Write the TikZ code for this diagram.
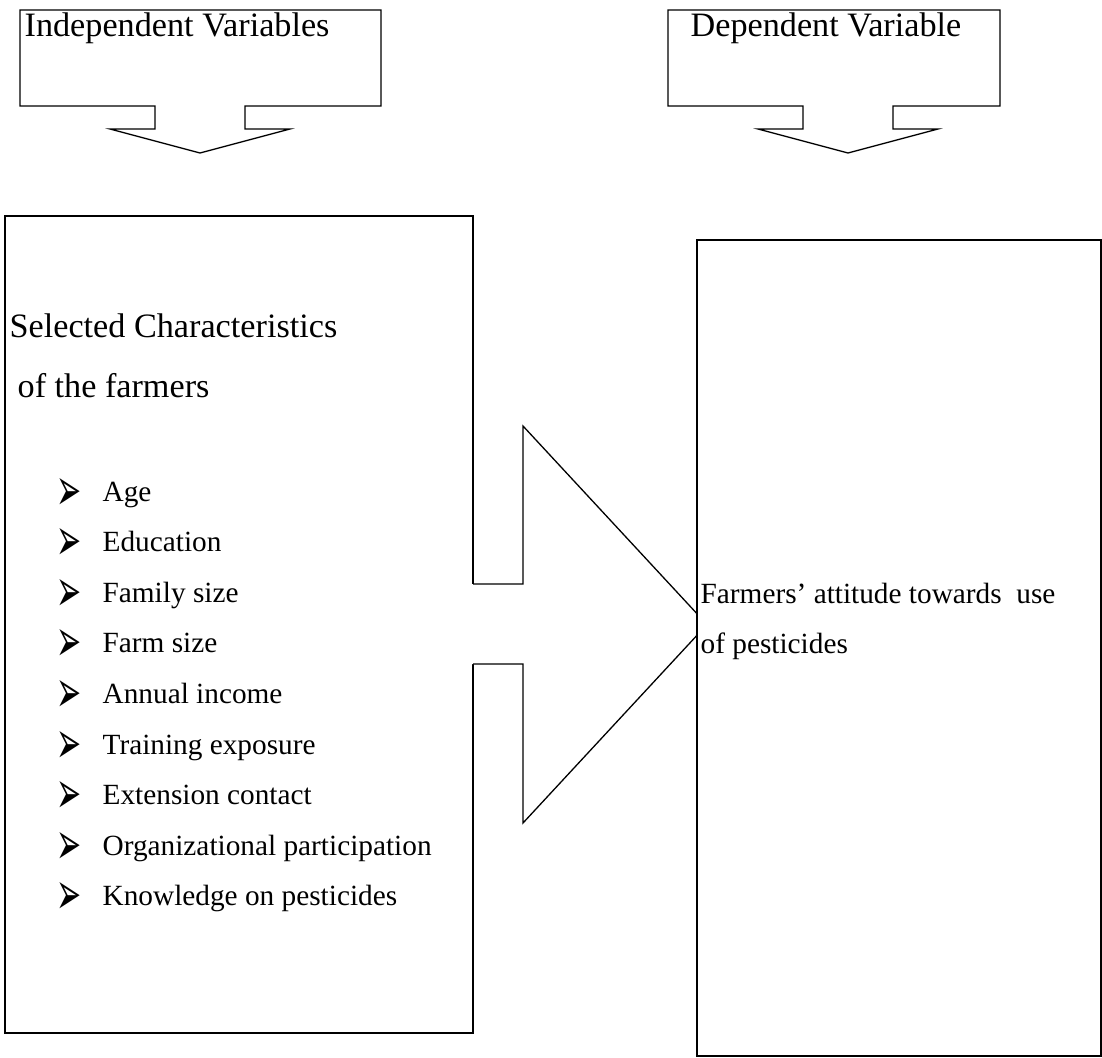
\documentclass[tikz,border=0pt]{standalone}
\usepackage{fontspec}
\setmainfont{Liberation Serif}
\newfontfamily\symfont{DejaVu Sans}
\begin{document}
\begin{tikzpicture}[x=1pt,y=-1pt,line width=1.3pt,
  big/.style={anchor=base west,inner sep=0pt,font=\fontsize{34.2}{40}\selectfont},
  small/.style={anchor=base west,inner sep=0pt,font=\fontsize{29.3}{35}\selectfont},
  bul/.style={anchor=base west,inner sep=0pt,yshift=-9pt,font=\symfont\fontsize{30}{34}\selectfont},
  callout/.style={draw=black,fill=white,line join=miter}]
\useasboundingbox (0,0) rectangle (1102,1057);

% top callouts
\filldraw[callout] (155,106) -- (20,106) -- (20,10) -- (381,10) -- (381,106) -- (245,106)
  -- (245,129) -- (290,129) -- (200,153) -- (110,129) -- (155,129) -- cycle;
\node[big] (indep) at (24,37) {Independent Variables};

\filldraw[callout] (803,106) -- (668,106) -- (668,10) -- (1000,10) -- (1000,106) -- (893,106)
  -- (893,129) -- (938,129) -- (848,153) -- (758,129) -- (803,129) -- cycle;
\node[big] (depl) at (690,37) {Dependent Variable};

% left box with gap for the arrow shaft
\draw (473,584) -- (473,216) -- (5,216) -- (5,1033) -- (473,1033) -- (473,664);
\node[big] (sel1) at (9,337) {Selected Characteristics};
\node[big] (sel2) at (17,397) {of the farmers};
\foreach \t [count=\i from 0] in {Age,Education,Family size,Farm size,Annual income,
  Training exposure,Extension contact,Organizational participation,Knowledge on pesticides}{
  \node[bul] (b\i) at ({56},{501+50.6*\i}) {\smash{\scalebox{1}[2]{➢}}};
  \node[small] (t\i) at ({102},{501+50.6*\i}) {\t};
}

% block arrow
\fill[white] (471,584) -- (523,584) -- (523,426) -- (707,624.5) -- (523,823) -- (523,664) -- (471,664) -- cycle;
\draw[line join=miter] (473,584) -- (523,584) -- (523,426) -- (707,624.5) -- (523,823) -- (523,664) -- (473,664);

% right box
\node[draw,fill=white,line width=2pt,anchor=north west,inner sep=0pt,
  minimum width=404pt,minimum height=816pt] (dep) at (696,239) {};
\node[small] (att1) at (700,603) {Farmers’ attitude towards~~use};
\node[small] (att2) at (700,653) {of pesticides};
\end{tikzpicture}
\end{document}
